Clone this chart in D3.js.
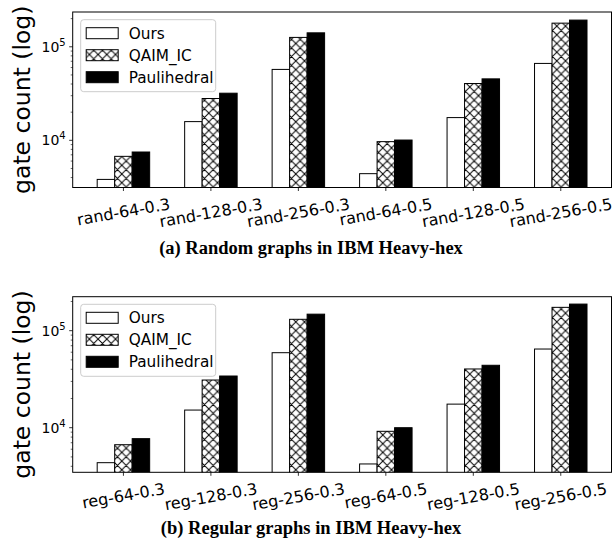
<!DOCTYPE html>
<html>
<head>
<meta charset="utf-8">
<script src="https://d3js.org/d3.v7.min.js"></script>
<style>
  body { margin: 0; background: #fff; }
  text { font-family: "DejaVu Sans", sans-serif; fill: #000; }
</style>
</head>
<body>
<svg id="fig" width="613" height="545"></svg>
<script>
var series = ["Ours", "QAIM_IC", "Paulihedral"];

var randCats = ["rand-64-0.3", "rand-128-0.3", "rand-256-0.3", "rand-64-0.5", "rand-128-0.5", "rand-256-0.5"];
var randOurs = [3820, 15850, 57300, 4400, 17500, 66400];
var randQaim = [6740, 28000, 126000, 9680, 40500, 179000];
var randPauli = [7500, 31900, 141000, 10070, 45400, 193000];

var regCats = ["reg-64-0.3", "reg-128-0.3", "reg-256-0.3", "reg-64-0.5", "reg-128-0.5", "reg-256-0.5"];
var regOurs = [4360, 15200, 59300, 4230, 17500, 64700];
var regQaim = [6680, 31000, 131000, 9180, 40300, 174000];
var regPauli = [7710, 34100, 148000, 10000, 44000, 188000];

var majorTicks = [1e4, 1e5];
var captions = ["(a) Random graphs in IBM Heavy-hex", "(b) Regular graphs in IBM Heavy-hex"];

var svg = d3.select("#fig");

// crosshatch like matplotlib 'xx'
var defs = svg.append("defs");
var pat = defs.append("pattern").attr("id", "xhatch")
  .attr("patternUnits", "userSpaceOnUse").attr("width", 8.7).attr("height", 8.7);
pat.append("rect").attr("width", 8.7).attr("height", 8.7).attr("fill", "#fff");
pat.append("path").attr("d", "M0,0L8.7,8.7M0,8.7L8.7,0M-1,1L1,-1M7.7,9.7L9.7,7.7")
  .attr("stroke", "#000").attr("stroke-width", 1).attr("fill", "none");

var fills = ["#fff", "url(#xhatch)", "#000"];

function drawPanel(cfg) {
  var left = 72.7, right = 611.5;
  var x = d3.scaleLinear().domain([-0.58, 5.58]).range([left, right]);
  var y = d3.scaleLog().domain(cfg.ydom).range([cfg.bottom, cfg.top]);
  var g = svg.append("g");
  var vals = [cfg.ours, cfg.qaim, cfg.pauli];

  // bars
  var cp = "clip" + cfg.id;
  defs.append("clipPath").attr("id", cp).append("rect")
    .attr("x", left).attr("y", cfg.top).attr("width", right - left).attr("height", cfg.bottom - cfg.top);
  var bars = g.append("g").attr("clip-path", "url(#" + cp + ")");
  vals.forEach(function (arr, si) {
    bars.selectAll(null).data(arr).enter().append("rect")
      .attr("x", (d, i) => x(i + (si - 1) * 0.2 - 0.1))
      .attr("width", x(0.2) - x(0))
      .attr("y", d => y(d))
      .attr("height", d => cfg.bottom + 2 - y(d))
      .attr("fill", fills[si])
      .attr("stroke", "#000").attr("stroke-width", 1);
  });

  // spines
  g.append("rect").attr("x", left).attr("y", cfg.top).attr("width", right - left)
    .attr("height", cfg.bottom - cfg.top).attr("fill", "none").attr("stroke", "#000").attr("stroke-width", 1);

  // y axis: major + minor ticks
  var minor = [];
  for (var e = 3; e <= 5; e++) for (var m = 2; m <= 9; m++) {
    var v = m * Math.pow(10, e);
    if (v > cfg.ydom[0] && v < cfg.ydom[1]) minor.push(v);
  }
  g.selectAll(null).data(minor).enter().append("line")
    .attr("x1", left - 2).attr("x2", left).attr("y1", d => y(d)).attr("y2", d => y(d))
    .attr("stroke", "#000").attr("stroke-width", 0.6);
  g.selectAll(null).data(majorTicks).enter().append("line")
    .attr("x1", left - 3.5).attr("x2", left).attr("y1", d => y(d)).attr("y2", d => y(d))
    .attr("stroke", "#000").attr("stroke-width", 0.8);
  var tl = g.selectAll(null).data(majorTicks).enter().append("text")
    .attr("x", left - 7).attr("y", d => y(d) + 5)
    .attr("text-anchor", "end").style("font-size", "14px");
  tl.append("tspan").text("10");
  tl.append("tspan").attr("dy", -6).style("font-size", "10px").text(d => Math.round(Math.log10(d)));

  // x ticks
  g.selectAll(null).data(cfg.cats).enter().append("line")
    .attr("x1", (d, i) => x(i)).attr("x2", (d, i) => x(i))
    .attr("y1", cfg.bottom).attr("y2", cfg.bottom + 3.5)
    .attr("stroke", "#000").attr("stroke-width", 0.8);
  var ang = 10, rad = ang * Math.PI / 180, fs = 16;
  g.selectAll(null).data(cfg.cats).enter().append("text")
    .style("font-size", fs + "px")
    .attr("text-anchor", "middle")
    .attr("dominant-baseline", "central")
    .text(d => d)
    .each(function (d, i) {
      var w = this.getComputedTextLength();
      var h = fs * 1.17;
      var cy = cfg.bottom + 7 + (w * Math.sin(rad) + h * Math.cos(rad)) / 2;
      d3.select(this).attr("x", x(i)).attr("y", cy)
        .attr("transform", "rotate(" + (-ang) + "," + x(i) + "," + cy + ")");
    });

  // y label
  var ym = (cfg.top + cfg.bottom) / 2;
  g.append("text").attr("transform", "translate(30," + ym + ") rotate(-90)")
    .attr("text-anchor", "middle").style("font-size", "23.5px").text("gate count (log)");

  // legend
  var lg = g.append("g").attr("transform", "translate(" + cfg.leg[0] + "," + cfg.leg[1] + ")");
  lg.append("rect").attr("width", 135).attr("height", 72).attr("rx", 3)
    .attr("fill", "#fff").attr("fill-opacity", 0.8).attr("stroke", "#ccc").attr("stroke-width", 1);
  series.forEach(function (s, si) {
    var ry = 13.5 + si * 22;
    lg.append("rect").attr("x", 5.5).attr("y", ry - 5.5).attr("width", 32).attr("height", 11)
      .attr("fill", fills[si]).attr("stroke", "#000").attr("stroke-width", 1);
    lg.append("text").attr("x", 48).attr("y", ry + 5.5).style("font-size", "15.3px").text(s);
  });

  // caption
  svg.append("text").attr("x", 311).attr("y", cfg.capY).attr("text-anchor", "middle")
    .style("font-family", "'Liberation Serif', serif").style("font-weight", "bold")
    .style("font-size", "18.5px").text(cfg.caption);
}

drawPanel({ id: "a", top: 12, bottom: 187.5, ydom: [3130, 235500], cats: randCats,
  ours: randOurs, qaim: randQaim, pauli: randPauli, leg: [80.7, 19.7], capY: 254, caption: captions[0] });
drawPanel({ id: "b", top: 296.7, bottom: 472.3, ydom: [3470, 224000], cats: regCats,
  ours: regOurs, qaim: regQaim, pauli: regPauli, leg: [80.7, 304.3], capY: 533.5, caption: captions[1] });
</script>
</body>
</html>
